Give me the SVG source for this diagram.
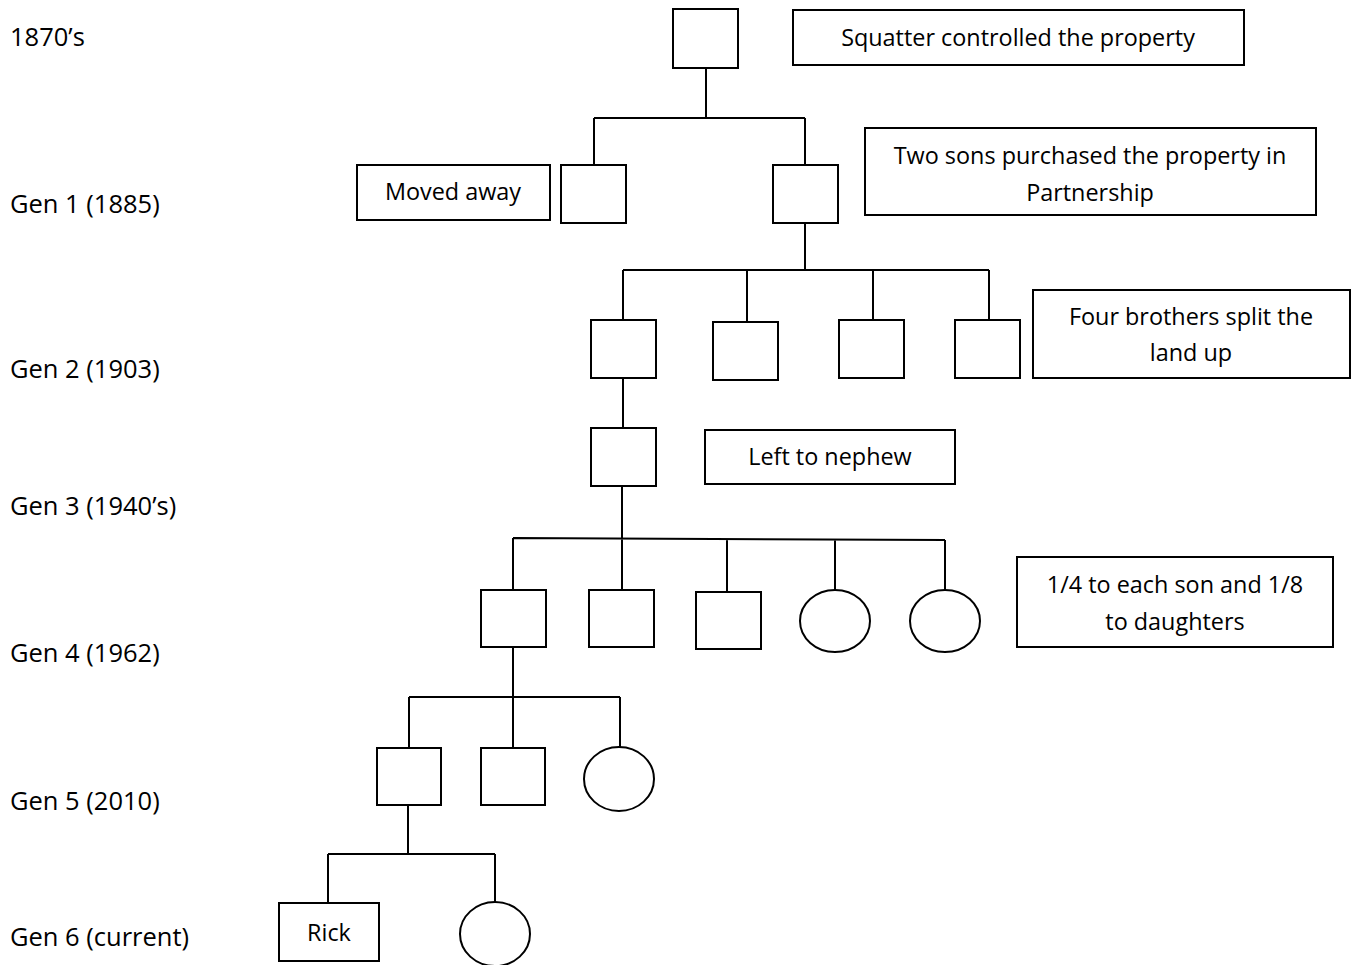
<svg xmlns="http://www.w3.org/2000/svg" width="1357" height="965" viewBox="0 0 1357 965">
<style>
.n{fill:#fff;stroke:#000;stroke-width:2}
.c{fill:none;stroke:#000;stroke-width:2}
.t{font-family:"Open Sans","Liberation Sans",Arial,sans-serif;font-size:23.4px;fill:#000;text-anchor:middle}
.g{font-family:"Open Sans","DejaVu Sans",sans-serif;font-size:25.5px;fill:#000}
</style>
<rect width="1357" height="965" fill="#fff"/>
<g id="gen-labels">
<text class="g" x="10" y="46">1870’s</text>
<text class="g" x="10" y="213">Gen 1 (1885)</text>
<text class="g" x="10" y="378">Gen 2 (1903)</text>
<text class="g" x="10" y="515">Gen 3 (1940’s)</text>
<text class="g" x="10" y="662">Gen 4 (1962)</text>
<text class="g" x="10" y="810">Gen 5 (2010)</text>
<text class="g" x="10" y="946">Gen 6 (current)</text>
</g>
<g id="connectors">
<path class="c" d="M706 68V118M594 118H805M594 118V165M805 118V165"/>
<path class="c" d="M805 223V270M623 270H989M623 270V320M747 270V322M873 270V320M989 270V320"/>
<path class="c" d="M623 378V428"/>
<path class="c" d="M622 486V538M513 538L945 540M513 538V590M622 538V590M727 539V592M835 539V592M945 540V592"/>
<path class="c" d="M513 647V697M409 697H620M409 697V748M513 697V748M620 697V748"/>
<path class="c" d="M408 805V854M328 854H495M328 854V903M495 854V903"/>
</g>
<g id="n0"><rect class="n" x="673" y="9" width="65" height="59"/></g>
<g id="note-squatter"><rect class="n" x="793" y="10" width="451" height="55"/><text class="t" x="1018" y="46">Squatter controlled the property</text></g>
<g id="n1a"><rect class="n" x="561" y="165" width="65" height="58"/></g>
<g id="n1b"><rect class="n" x="773" y="165" width="65" height="58"/></g>
<g id="note-moved"><rect class="n" x="357" y="165" width="193" height="55"/><text class="t" x="453" y="200">Moved away</text></g>
<g id="note-twosons"><rect class="n" x="865" y="128" width="451" height="87"/><text class="t" x="1090" y="164">Two sons purchased the property in</text><text class="t" x="1090" y="201">Partnership</text></g>
<g id="n2a"><rect class="n" x="591" y="320" width="65" height="58"/></g>
<g id="n2b"><rect class="n" x="713" y="322" width="65" height="58"/></g>
<g id="n2c"><rect class="n" x="839" y="320" width="65" height="58"/></g>
<g id="n2d"><rect class="n" x="955" y="320" width="65" height="58"/></g>
<g id="note-four"><rect class="n" x="1033" y="290" width="317" height="88"/><text class="t" x="1191" y="325">Four brothers split the</text><text class="t" x="1191" y="361">land up</text></g>
<g id="n3"><rect class="n" x="591" y="428" width="65" height="58"/></g>
<g id="note-nephew"><rect class="n" x="705" y="430" width="250" height="54"/><text class="t" x="830" y="465">Left to nephew</text></g>
<g id="n4a"><rect class="n" x="481" y="590" width="65" height="57"/></g>
<g id="n4b"><rect class="n" x="589" y="590" width="65" height="57"/></g>
<g id="n4c"><rect class="n" x="696" y="592" width="65" height="57"/></g>
<g id="n4d"><ellipse class="n" cx="835" cy="621" rx="35" ry="31"/></g>
<g id="n4e"><ellipse class="n" cx="945" cy="621" rx="35" ry="31"/></g>
<g id="note-quarter"><rect class="n" x="1017" y="557" width="316" height="90"/><text class="t" x="1175" y="593">1/4 to each son and 1/8</text><text class="t" x="1175" y="630">to daughters</text></g>
<g id="n5a"><rect class="n" x="377" y="748" width="64" height="57"/></g>
<g id="n5b"><rect class="n" x="481" y="748" width="64" height="57"/></g>
<g id="n5c"><ellipse class="n" cx="619" cy="779" rx="35" ry="32"/></g>
<g id="n6a"><rect class="n" x="279" y="903" width="100" height="58"/><text class="t" x="329" y="941">Rick</text></g>
<g id="n6b"><ellipse class="n" cx="495" cy="934" rx="35" ry="32"/></g>
</svg>
